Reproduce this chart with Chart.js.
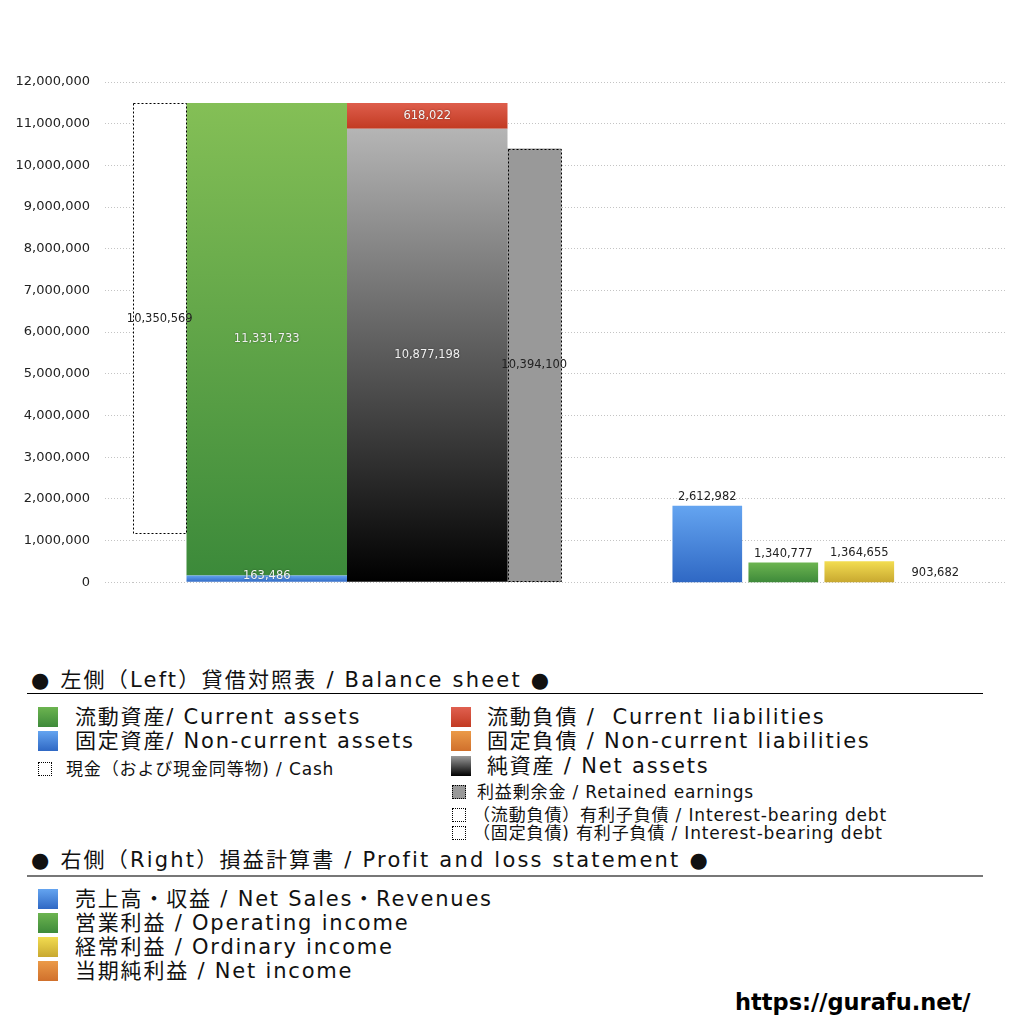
<!DOCTYPE html>
<html lang="ja">
<head>
<meta charset="utf-8">
<title>貸借対照表・損益計算書</title>
<script src="https://cdn.jsdelivr.net/npm/chart.js@4.4.0/dist/chart.umd.min.js"></script>
<style>
  body { margin: 0; background: #fff; }
  #wrap { position: relative; width: 1024px; height: 1024px; overflow: hidden;
          font-family: 'DejaVu Sans', 'Noto Sans CJK JP', sans-serif; color: #111; }
  #chart { position: absolute; left: 0; top: 0; }
  .t { position: absolute; white-space: nowrap; line-height: 24px; }
  .big { font-size: 21px; letter-spacing: 1.8px; }
  .small { font-size: 17px; letter-spacing: 0.85px; line-height: 18px; }
  .head { font-size: 21px; letter-spacing: 2.2px; line-height: 28px; }
  .rule { position: absolute; left: 27px; width: 956px; height: 0; }
  .sq { position: absolute; width: 20px; height: 20px; }
  .sq.s { width: 12px; height: 12px; }
  .green  { background: linear-gradient(#6cb450, #3e8a3a); }
  .blue   { background: linear-gradient(#64a4f0, #2f68c4); }
  .red    { background: linear-gradient(#e06050, #c23a22); }
  .orange { background: linear-gradient(#eb9a48, #d0702c); }
  .black  { background: linear-gradient(#9a9a9a, #000); }
  .yellow { background: linear-gradient(#f2dc50, #c8a830); }
  .dot    { border: 1px dotted #000; background: #fff; }
  .gray   { border: 1px dotted #000; background: #999; }
  #url { position: absolute; left: 735px; top: 989px; font: bold 22.5px 'DejaVu Sans', sans-serif; color: #000; }
</style>
</head>
<body>
<div id="wrap">
  <canvas id="chart" width="1024" height="605"></canvas>

  <!-- left side legend -->
  <div class="t head" style="left:31px; top:666px;">● 左側（Left）貸借対照表 / Balance sheet ●</div>
  <div class="rule" style="top:693px; border-top:1.5px solid #000;"></div>

  <div class="sq green" style="left:38px; top:707px;"></div>
  <div class="t big" style="left:75px; top:705px;">流動資産/ Current assets</div>
  <div class="sq blue" style="left:38px; top:731px;"></div>
  <div class="t big" style="left:75px; top:729px;">固定資産/ Non-current assets</div>
  <div class="sq s dot" style="left:38px; top:762px;"></div>
  <div class="t small" style="left:66px; top:760px;">現金（および現金同等物) / Cash</div>

  <div class="sq red" style="left:451px; top:707px;"></div>
  <div class="t big" style="left:487px; top:705px;">流動負債 /&nbsp; Current liabilities</div>
  <div class="sq orange" style="left:451px; top:731px;"></div>
  <div class="t big" style="left:487px; top:729px;">固定負債 / Non-current liabilities</div>
  <div class="sq black" style="left:451px; top:756px;"></div>
  <div class="t big" style="left:487px; top:754px;">純資産 / Net assets</div>
  <div class="sq s gray" style="left:452px; top:785px;"></div>
  <div class="t small" style="left:477px; top:783px;">利益剰余金 / Retained earnings</div>
  <div class="sq s dot" style="left:452px; top:808px;"></div>
  <div class="t small" style="left:473px; top:806px;">（流動負債）有利子負債 / Interest-bearing debt</div>
  <div class="sq s dot" style="left:452px; top:826px;"></div>
  <div class="t small" style="left:473px; top:824px;">（固定負債) 有利子負債 / Interest-bearing debt</div>

  <!-- right side legend -->
  <div class="t head" style="left:31px; top:846px;">● 右側（Right）損益計算書 / Profit and loss statement ●</div>
  <div class="rule" style="top:875px; border-top:2px solid #777;"></div>

  <div class="sq blue" style="left:38px; top:889px;"></div>
  <div class="t big" style="left:75px; top:887px;">売上高・収益 / Net Sales・Revenues</div>
  <div class="sq green" style="left:38px; top:913px;"></div>
  <div class="t big" style="left:75px; top:911px;">営業利益 / Operating income</div>
  <div class="sq yellow" style="left:38px; top:937px;"></div>
  <div class="t big" style="left:75px; top:935px;">経常利益 / Ordinary income</div>
  <div class="sq orange" style="left:38px; top:961px;"></div>
  <div class="t big" style="left:75px; top:959px;">当期純利益 / Net income</div>

  <div id="url">https://gurafu.net/</div>
</div>

<script>
// Balance sheet (left side)
const bsCategories = ['現金', '資産', '負債・純資産', '利益剰余金'];
const assetNames = ['固定資産', '流動資産'];
const assetValues = [163486, 11331733];
const liabilityNames = ['純資産', '流動負債'];
const liabilityValues = [10877198, 618022];
const cashValues = [10350569];
const retainedValues = [10394100];

// Profit and loss statement (right side)
const plNames = ['売上高・収益', '営業利益', '経常利益', '当期純利益'];
const plValues = [2612982, 1340777, 1364655, 903682];

// Left axis ticks
const yTickValues = [0, 1000000, 2000000, 3000000, 4000000, 5000000, 6000000,
  7000000, 8000000, 9000000, 10000000, 11000000, 12000000];

// Slot layout on the hidden category axes
const bsSlotCount = 16;
const bsSlots = [0, 2, 5, 7];      // cash, assets, liabilities, retained
const plSlotCount = 14;
const plSlot = 12;

const totalAssets = assetValues[0] + assetValues[1];

function placeAt(count, idx, value) {
  const arr = new Array(count).fill(null);
  arr[idx] = value;
  return arr;
}

function fmt(v) {
  return v.toLocaleString('en-US');
}

// vertical gradient between two values on an axis
function vGrad(ctx, axisId, topVal, botVal, stops) {
  const chart = ctx.chart;
  const scale = chart.scales[axisId];
  if (!chart.chartArea || !scale) return stops[stops.length - 1];
  const y0 = scale.getPixelForValue(topVal);
  const y1 = scale.getPixelForValue(Math.max(botVal, scale.min));
  if (Math.abs(y1 - y0) < 1) return 'rgba(0,0,0,0)';
  const g = chart.ctx.createLinearGradient(0, y0, 0, y1);
  stops.forEach((c, i) => g.addColorStop(i / (stops.length - 1), c));
  return g;
}

const bsLabels = new Array(bsSlotCount).fill('');
bsCategories.forEach((c, i) => { bsLabels[bsSlots[i]] = c; });
const plLabels = new Array(plSlotCount).fill('');
plLabels[plSlot] = '損益計算書';

const bsBase = { type: 'bar', xAxisID: 'xb', yAxisID: 'y', grouped: false, categoryPercentage: 1, borderWidth: 0 };
const plBase = { type: 'bar', xAxisID: 'xp', yAxisID: 'y2', grouped: true, barThickness: 76, maxBarThickness: 69, borderWidth: 0,
  labelPos: 'above', labelColor: '#222' };

const plColors = [
  ['#64a4f0', '#2f68c4'],
  ['#6cb450', '#3e8a3a'],
  ['#f2dc50', '#c8a830'],
  ['#eb9a48', '#d0702c']
];

const datasets = [
  Object.assign({}, bsBase, {
    label: assetNames[0], stack: 'assets', barPercentage: 3,
    data: placeAt(bsSlotCount, bsSlots[1], assetValues[0]),
    backgroundColor: ctx => vGrad(ctx, 'y', assetValues[0], 0, ['#64a4f0', '#2f68c4']),
    valueText: fmt(assetValues[0]), labelPos: 'center', labelColor: '#f4f4f4', labelShift: -3
  }),
  Object.assign({}, bsBase, {
    label: assetNames[1], stack: 'assets', barPercentage: 3,
    data: placeAt(bsSlotCount, bsSlots[1], assetValues[1]),
    backgroundColor: ctx => vGrad(ctx, 'y', totalAssets, assetValues[0], ['#84bf56', '#3c8a3a']),
    valueText: fmt(assetValues[1]), labelPos: 'center', labelColor: '#f0f0f0'
  }),
  Object.assign({}, bsBase, {
    label: liabilityNames[0], stack: 'liab', barPercentage: 3,
    data: placeAt(bsSlotCount, bsSlots[2], liabilityValues[0]),
    backgroundColor: ctx => vGrad(ctx, 'y', liabilityValues[0], 0, ['#b5b5b5', '#000000']),
    valueText: fmt(liabilityValues[0]), labelPos: 'center', labelColor: '#f0f0f0'
  }),
  Object.assign({}, bsBase, {
    label: liabilityNames[1], stack: 'liab', barPercentage: 3,
    data: placeAt(bsSlotCount, bsSlots[2], liabilityValues[1]),
    backgroundColor: ctx => vGrad(ctx, 'y', liabilityValues[0] + liabilityValues[1], liabilityValues[0], ['#de5e4c', '#c23a22']),
    valueText: fmt(liabilityValues[1]), labelPos: 'center', labelColor: '#f4f4f4'
  }),
  Object.assign({}, bsBase, {
    label: '現金', barPercentage: 1,
    data: placeAt(bsSlotCount, bsSlots[0], [totalAssets - cashValues[0], totalAssets]),
    backgroundColor: '#ffffff', dotted: true,
    valueText: fmt(cashValues[0]), labelPos: 'center', labelColor: '#222'
  }),
  Object.assign({}, bsBase, {
    label: '利益剰余金', barPercentage: 1,
    data: placeAt(bsSlotCount, bsSlots[3], retainedValues[0]),
    backgroundColor: '#999999', dotted: true,
    valueText: fmt(retainedValues[0]), labelPos: 'center', labelColor: '#222'
  })
];

plNames.forEach((name, i) => {
  datasets.push(Object.assign({}, plBase, {
    label: name,
    data: placeAt(plSlotCount, plSlot, plValues[i]),
    backgroundColor: ctx => vGrad(ctx, 'y2', plValues[i], ctx.chart.scales.y2 ? ctx.chart.scales.y2.min : 0, plColors[i]),
    valueText: fmt(plValues[i])
  }));
});

// dotted outlines and value labels
const barDecor = {
  id: 'barDecor',
  afterDatasetsDraw(chart) {
    const ctx = chart.ctx;
    chart.data.datasets.forEach((ds, di) => {
      const meta = chart.getDatasetMeta(di);
      meta.data.forEach((bar, i) => {
        if (ds.data[i] == null) return;
        const { x, y, base, width } = bar.getProps(['x', 'y', 'base', 'width'], true);
        if (ds.dotted) {
          ctx.save();
          ctx.strokeStyle = '#000';
          ctx.lineWidth = 1;
          ctx.setLineDash([2, 2]);
          ctx.strokeRect(Math.round(x - width / 2) + 0.5, Math.round(Math.min(y, base)) + 0.5,
            Math.round(width) - 1, Math.round(Math.abs(base - y)) - 1);
          ctx.restore();
        }
        if (!ds.valueText) return;
        ctx.save();
        ctx.font = '11.5px "DejaVu Sans", sans-serif';
        ctx.textAlign = 'center';
        ctx.textBaseline = 'middle';
        ctx.fillStyle = ds.labelColor;
        if (ds.labelColor !== '#222') {
          ctx.shadowColor = 'rgba(0,0,0,0.45)';
          ctx.shadowBlur = 2;
        }
        const ty = ds.labelPos === 'above' ? Math.min(y, base) - 9 : (y + base) / 2 + (ds.labelShift || 0);
        ctx.fillText(ds.valueText, x, ty);
        ctx.restore();
      });
    });
  }
};

const dotted = [1, 2];
const gridColor = '#c4c4c4';

new Chart(document.getElementById('chart'), {
  type: 'bar',
  data: { datasets },
  plugins: [barDecor],
  options: {
    responsive: false,
    animation: false,
    layout: { padding: { top: 82, right: 19, bottom: 13, left: 0 } },
    plugins: {
      legend: { display: false },
      tooltip: { enabled: false }
    },
    scales: {
      xb: { type: 'category', labels: bsLabels, display: false, offset: true },
      xp: { type: 'category', labels: plLabels, display: false, offset: true },
      y: {
        position: 'left',
        min: 0,
        max: 12000000,
        afterBuildTicks: scale => { scale.ticks = yTickValues.map(v => ({ value: v })); },
        afterFit: scale => { scale.width = 133; },
        ticks: {
          padding: 15,
          color: '#222',
          font: { family: '"DejaVu Sans", sans-serif', size: 13 },
          callback: v => fmt(v)
        },
        grid: { color: gridColor, tickColor: gridColor, tickLength: 28, tickBorderDash: dotted },
        border: { display: false, dash: dotted }
      },
      y3: {
        position: 'right',
        min: 0,
        max: 12000000,
        afterBuildTicks: scale => { scale.ticks = yTickValues.map(v => ({ value: v })); },
        afterFit: scale => { scale.width = 16; },
        ticks: { display: false },
        grid: { drawOnChartArea: false, color: gridColor, tickColor: gridColor, tickLength: 16, tickBorderDash: dotted },
        border: { display: false, dash: dotted }
      },
      y2: {
        display: false,
        min: Math.min(...plValues),
        max: 12150000
      }
    }
  }
});
</script>
</body>
</html>
